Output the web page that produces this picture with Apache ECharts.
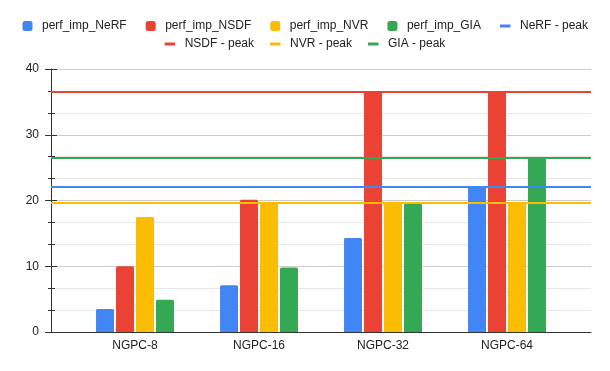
<!DOCTYPE html>
<html>
<head>
<meta charset="utf-8">
<script src="https://cdn.jsdelivr.net/npm/echarts@6/dist/echarts.min.js"></script>
<style>
  html, body { margin: 0; padding: 0; background: #fff; }
  #chart { width: 610px; height: 371px; }
</style>
</head>
<body>
<div id="chart"></div>
<script>
  // values
  var categories = ['NGPC-8', 'NGPC-16', 'NGPC-32', 'NGPC-64']
  var perfNeRF = [3.5, 7.1, 14.3, 22.1]
  var perfNSDF = [10.0, 20.1, 36.5, 36.5]
  var perfNVR = [17.5, 19.7, 19.8, 19.7]
  var perfGIA = [4.9, 9.8, 19.5, 26.5]
  var peakNeRF = 22.15
  var peakNSDF = 36.5
  var peakNVR = 19.7
  var peakGIA = 26.55

  var colors = { nerf: '#4285F4', nsdf: '#EA4335', nvr: '#FBBC04', gia: '#34A853' }
  var font = 'Liberation Sans, Arial, sans-serif'
  var legendText = { fontSize: 12, color: '#222', fontFamily: font, padding: [0, 0, 0, 4.5] }

  function bar (name, data, color) {
    return {
      name: name,
      type: 'bar',
      xAxisIndex: 1,
      yAxisIndex: 2,
      data: data,
      barWidth: 18,
      barGap: '11%',
      itemStyle: { color: color, borderRadius: [1.5, 1.5, 0, 0] },
      z: 2
    }
  }

  function peak (name, value, color) {
    return {
      name: name,
      type: 'line',
      xAxisIndex: 0,
      yAxisIndex: 0,
      data: [],
      itemStyle: { color: color },
      lineStyle: { color: color, width: 2 },
      markLine: {
        silent: true,
        symbol: ['none', 'none'],
        label: { show: false },
        lineStyle: { color: color, width: 2, type: 'solid' },
        data: [{ yAxis: value }]
      },
      z: 5
    }
  }

  var chart = echarts.init(document.getElementById('chart'))
  chart.setOption({
    animation: false,
    textStyle: { fontFamily: font },
    legend: [{
      data: ['perf_imp_NeRF', 'perf_imp_NSDF', 'perf_imp_NVR', 'perf_imp_GIA'],
      left: 22.5,
      top: 20,
      padding: 0,
      icon: 'roundRect',
      itemWidth: 10,
      itemHeight: 10,
      itemGap: 19,
      textStyle: legendText
    }, {
      data: ['NeRF - peak'],
      left: 500,
      top: 20,
      padding: 0,
      icon: 'rect',
      itemWidth: 10.5,
      itemHeight: 3,
      textStyle: legendText
    }, {
      data: ['NSDF - peak', 'NVR - peak', 'GIA - peak'],
      left: 'center',
      top: 38,
      padding: 0,
      icon: 'rect',
      itemWidth: 10.5,
      itemHeight: 3,
      itemGap: 16,
      textStyle: legendText
    }],
    grid: [
      { left: 51, right: 19, top: 69, bottom: 39 },
      { left: 73, right: 41, top: 69, bottom: 39 }
    ],
    xAxis: [{
      type: 'value',
      gridIndex: 0,
      min: 0,
      max: 1,
      axisLine: { show: true, onZero: false, lineStyle: { color: '#333', width: 1 } },
      axisTick: { show: false },
      axisLabel: { show: false },
      splitLine: { show: false }
    }, {
      type: 'category',
      gridIndex: 1,
      data: categories,
      axisLine: { show: false },
      axisTick: { show: false },
      axisLabel: { fontSize: 12, color: '#222', margin: 8, fontFamily: font }
    }],
    yAxis: [{
      type: 'value',
      gridIndex: 0,
      min: 0,
      max: 40,
      interval: 10,
      axisLine: { show: true, lineStyle: { color: '#333', width: 1 } },
      axisTick: { show: true, length: 6, lineStyle: { color: '#333' } },
      minorTick: { show: true, splitNumber: 3, length: 3, lineStyle: { color: '#333' } },
      axisLabel: { fontSize: 12, color: '#222', margin: 12, fontFamily: font },
      splitLine: { lineStyle: { color: '#cccccc', width: 1 } },
      minorSplitLine: { show: true, lineStyle: { color: '#e6e6e6', width: 1 } }
    }, {
      type: 'value',
      gridIndex: 0,
      position: 'left',
      min: 0,
      max: 40,
      interval: 10,
      axisLine: { show: false },
      axisTick: { show: true, inside: true, length: 6, lineStyle: { color: '#333' } },
      minorTick: { show: true, splitNumber: 3, length: 4, lineStyle: { color: '#333' } },
      axisLabel: { show: false },
      splitLine: { show: false }
    }, {
      type: 'value',
      gridIndex: 1,
      min: 0,
      max: 40,
      interval: 10,
      show: false,
      splitLine: { show: false }
    }],
    series: [
      bar('perf_imp_NeRF', perfNeRF, colors.nerf),
      bar('perf_imp_NSDF', perfNSDF, colors.nsdf),
      bar('perf_imp_NVR', perfNVR, colors.nvr),
      bar('perf_imp_GIA', perfGIA, colors.gia),
      peak('NeRF - peak', peakNeRF, colors.nerf),
      peak('NSDF - peak', peakNSDF, colors.nsdf),
      peak('NVR - peak', peakNVR, colors.nvr),
      peak('GIA - peak', peakGIA, colors.gia)
    ]
  })
</script>
</body>
</html>
